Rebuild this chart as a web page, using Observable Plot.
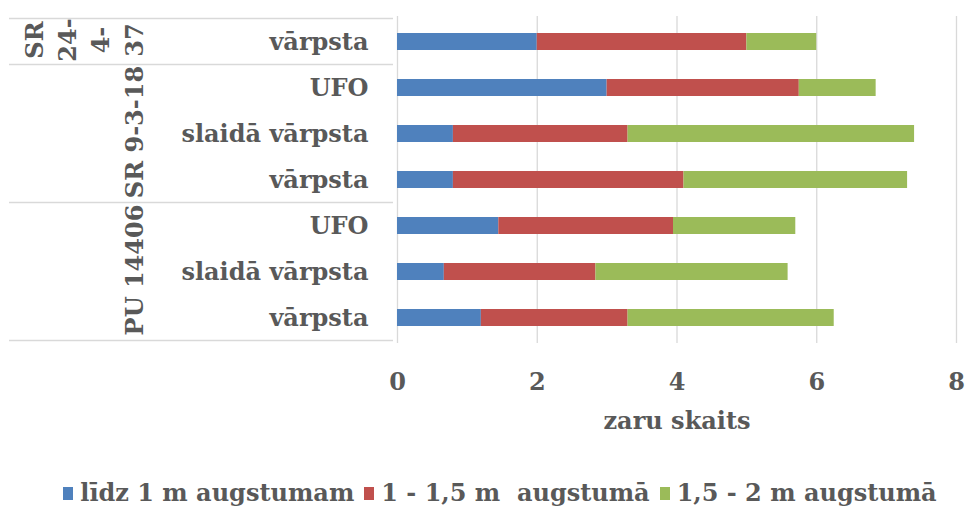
<!DOCTYPE html>
<html><head><meta charset="utf-8">
<script src="https://cdn.jsdelivr.net/npm/d3@7"></script>
<script src="https://cdn.jsdelivr.net/npm/@observablehq/plot@0.6"></script>
<style>
body{margin:0;background:#fff;}
#legend{display:flex;justify-content:center;align-items:center;gap:10px;margin-top:34px;padding-left:35px;font:bold 24px "DejaVu Serif",serif;color:#595959;line-height:28px;white-space:pre;}
#legend .it{display:flex;align-items:center;}
#legend .sw{display:inline-block;width:10px;height:13px;margin-right:7px;}
</style></head><body><div id="chart"></div><div id="legend"></div>
<script>
const groupNames = ["SR 24-4-37", "SR 9-3-18", "PU 14406"];
const groupLabels = ["SR\n24-\n4-\n37", "SR 9-3-18", "PU 14406"];
const groups = ["SR 24-4-37", "SR 9-3-18", "SR 9-3-18", "SR 9-3-18", "PU 14406", "PU 14406", "PU 14406"];
const forms = ["vārpsta", "UFO", "slaidā vārpsta", "vārpsta", "UFO", "slaidā vārpsta", "vārpsta"];
const low  = [2.0, 3.0, 0.8, 0.8, 1.45, 0.67, 1.2];
const mid  = [3.0, 2.75, 2.5, 3.3, 2.5, 2.17, 2.1];
const high = [1.0, 1.1, 4.1, 3.2, 1.75, 2.75, 2.95];
const series = ["līdz 1 m augstumam", "1 - 1,5 m  augstumā", "1,5 - 2 m augstumā"];
const colors = ["#4F81BD", "#C0504D", "#9BBB59"];
const xTicks = [0, 2, 4, 6, 8];

const keys = groups.map((g, i) => g + "|" + forms[i]);
const tidy = [];
keys.forEach((k, i) => [low, mid, high].forEach((arr, j) => tidy.push({key: k, series: series[j], value: arr[i]})));
const groupRows = groupNames.map((g, gi) => {
  const idx = groups.map((d, i) => d === g ? i : -1).filter(i => i >= 0);
  return {label: groupLabels[gi], key: keys[idx[Math.floor(idx.length / 2)]], first: keys[idx[0]], last: keys[idx[idx.length - 1]]};
});

const plot = Plot.plot({
  width: 965, height: 445,
  marginLeft: 397, marginRight: 9, marginTop: 16, marginBottom: 102,
  style: {fontFamily: "DejaVu Serif, serif", fontSize: "24px", fontWeight: "bold", color: "#595959", background: "#fff"},
  x: {domain: [0, 8]},
  y: {domain: keys, paddingInner: 0.63, paddingOuter: 0.315},
  color: {domain: series, range: colors},
  marks: [
    Plot.gridX({ticks: xTicks, stroke: "#d9d9d9", strokeOpacity: 1, strokeWidth: 1.3}),
    Plot.barX(tidy, Plot.stackX({x: "value", y: "key", fill: "series"})),
    Plot.axisX({ticks: xTicks, tickSize: 0, tickPadding: 29, label: "zaru skaits", labelAnchor: "center", labelOffset: 85, labelArrow: "none"}),
    Plot.axisY({tickSize: 0, tickPadding: 29, tickFormat: k => k.split("|")[1], label: null}),
    Plot.text(groupRows, {y: "key", text: "label", frameAnchor: "left", dx: -255, dy: -2, rotate: -90, lineAnchor: "bottom", lineHeight: 1.38, textAnchor: "middle", fill: "#595959", fontSize: 24, fontWeight: "bold"})
  ]
});
document.getElementById("chart").appendChild(plot);

// table separators in the left margin, placed from the y band scale
const ys = plot.scale("y");
const gap = (ys.step - ys.bandwidth) / 2;
const bounds = groupRows.map(r => ys.apply(r.first) - gap);
bounds.push(ys.apply(groupRows[groupRows.length - 1].last) + ys.bandwidth + gap);
d3.select(plot).append("g").selectAll("line").data(bounds).join("line")
  .attr("x1", 9).attr("x2", 393).attr("y1", d => d).attr("y2", d => d)
  .attr("stroke", "#d9d9d9").attr("stroke-width", 1.5);

const lg = d3.select("#legend");
series.forEach((s, i) => {
  const it = lg.append("div").attr("class", "it");
  it.append("span").attr("class", "sw").style("background", colors[i]);
  it.append("span").text(s);
});
</script></body></html>
